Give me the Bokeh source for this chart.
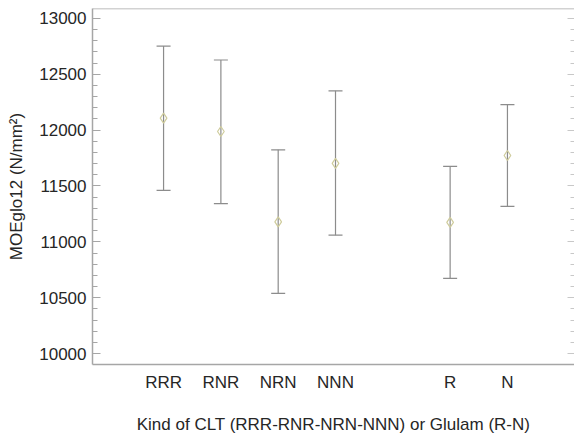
from bokeh.plotting import figure
from bokeh.models import ColumnDataSource, FixedTicker, LinearAxis, Range1d, Span, Whisker
from bokeh.embed import file_html
from bokeh.resources import INLINE

categories = ["RRR", "RNR", "NRN", "NNN", "R", "N"]
positions = [1, 2, 3, 4, 6, 7]
means = [12107, 11988, 11179, 11703, 11175, 11773]
lower = [11461, 11342, 10538, 11060, 10673, 11318]
upper = [12753, 12628, 11824, 12352, 11675, 12229]
y_ticks = [10000, 10500, 11000, 11500, 12000, 12500, 13000]
y_minor = list(range(9900, 13100, 100))

FONT = "Liberation Sans"
AXIS_COL = "#a6a6a6"
TEXT_COL = "#262626"

y_lo, y_hi = 9902, 13089

p = figure(width=574, height=436, output_backend="svg", toolbar_location=None,
           x_range=Range1d(-0.24, 8.17), y_range=Range1d(y_lo, y_hi),
           min_border_left=92, min_border_right=0, min_border_top=8,
           min_border_bottom=60)
p.outline_line_color = None
p.grid.visible = False
p.background_fill_color = "white"
p.border_fill_color = "white"

src = ColumnDataSource(dict(x=positions, m=means, lo=lower, hi=upper, name=categories))

w = Whisker(source=src, base="x", lower="lo", upper="hi", line_color="#8c8c8c", line_width=1.2)
for head in (w.upper_head, w.lower_head):
    head.size = 14
    head.line_color = "#8c8c8c"
    head.line_width = 1.2
p.add_layout(w)

p.scatter("x", "m", source=src, marker="diamond", size=10, fill_color=None,
          line_color="#cfcc9c", line_width=1.2)

# bottom axis
xa = p.xaxis[0]
xa.ticker = FixedTicker(ticks=positions)
xa.major_label_overrides = {pos: c for pos, c in zip(positions, categories)}
xa.major_tick_line_color = None
xa.minor_tick_line_color = None
xa.major_tick_in = 0
xa.major_tick_out = 0
xa.axis_line_color = AXIS_COL
xa.axis_line_width = 1.5
xa.major_label_text_font = FONT
xa.major_label_text_font_size = "17px"
xa.major_label_text_color = TEXT_COL
xa.major_label_standoff = 8
xa.axis_label = "Kind of CLT (RRR-RNR-NRN-NNN) or Glulam (R-N)"
xa.axis_label_text_font = FONT
xa.axis_label_text_font_size = "17px"
xa.axis_label_text_font_style = "normal"
xa.axis_label_text_color = TEXT_COL
xa.axis_label_standoff = 20

# left axis
ya = p.yaxis[0]
ya.ticker = FixedTicker(ticks=y_ticks, minor_ticks=y_minor)
ya.axis_line_color = AXIS_COL
ya.axis_line_width = 1.5
ya.major_tick_in = 8
ya.major_tick_out = 0
ya.minor_tick_in = 5
ya.minor_tick_out = 0
ya.major_tick_line_color = AXIS_COL
ya.minor_tick_line_color = AXIS_COL
ya.major_label_text_font = FONT
ya.major_label_text_font_size = "17px"
ya.major_label_text_color = TEXT_COL
ya.major_label_standoff = 6
ya.axis_label = "MOEglo12 (N/mm²)"
ya.axis_label_text_font = FONT
ya.axis_label_text_font_size = "17px"
ya.axis_label_text_font_style = "normal"
ya.axis_label_text_color = TEXT_COL
ya.axis_label_standoff = 10

# right axis: ticks only
ra = LinearAxis(ticker=FixedTicker(ticks=y_ticks, minor_ticks=y_minor))
ra.axis_line_color = None
ra.major_tick_in = 7
ra.major_tick_out = 0
ra.minor_tick_in = 4
ra.minor_tick_out = 0
ra.major_tick_line_color = "#c8c8c8"
ra.minor_tick_line_color = "#c8c8c8"
ra.major_label_text_font_size = "0px"
ra.major_label_text_color = None
ra.major_label_standoff = 0
p.add_layout(ra, "right")

# top frame line
p.add_layout(Span(location=y_hi, dimension="width", line_color=AXIS_COL, line_width=1.5))

open("out.html", "w").write(file_html(p, INLINE))
